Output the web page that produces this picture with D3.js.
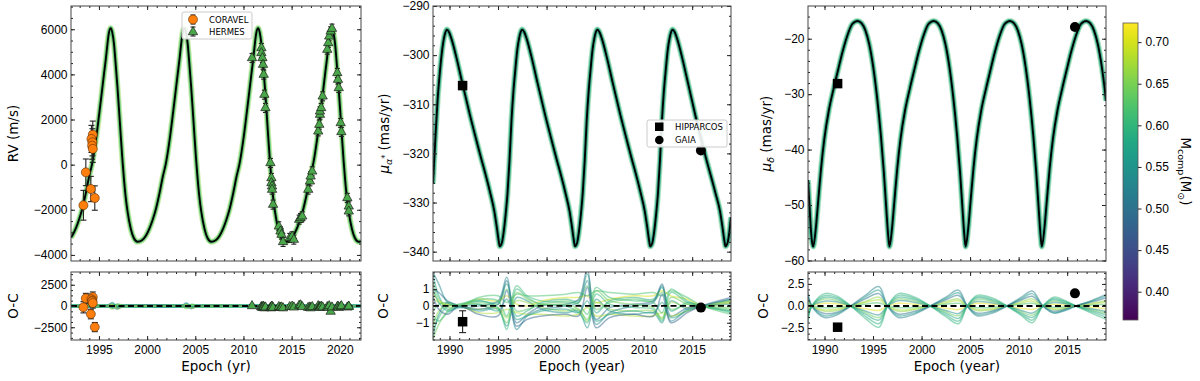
<!DOCTYPE html>
<html>
<head>
<meta charset="utf-8">
<script src="https://cdn.jsdelivr.net/npm/d3@7"></script>
<style>
    html, body { margin: 0; padding: 0; background: #fff; }
    svg { display: block; font-family: "DejaVu Sans", sans-serif; }
    .tick text { font-size: 12px; fill: #000; }
    .tick line { stroke: #222; }
</style>
</head>
<body>
<div id="chart"></div>
<script>
/*
 * Mass colour bar range (M_sun).
 */
var massDomain = [0.366, 0.723];
var massTicks = [0.40, 0.45, 0.50, 0.55, 0.60, 0.65, 0.70];

/*
 * RV panel: best orbit [epoch, m/s].
 */
var rvModel = [
    [1992.1, -3230], [1992.22, -3150], [1992.62, -2800], [1992.92, -2450], [1993.27, -1950],
    [1993.62, -1300], [1993.97, -550], [1994.32, 100], [1994.67, 1050], [1995.0, 2150],
    [1995.27, 3100], [1995.52, 4000], [1995.72, 4700], [1995.87, 5300], [1996.04, 5850],
    [1996.22, 6050], [1996.39, 5850], [1996.56, 5350], [1996.72, 4550], [1996.92, 3450],
    [1997.09, 2400], [1997.26, 1300], [1997.44, 200], [1997.6, -650], [1997.78, -1450],
    [1997.96, -2050], [1998.31, -2850], [1998.62, -3250], [1999.02, -3420], [1999.47, -3350],
    [1999.87, -3150], [2000.27, -2800], [2000.57, -2450], [2000.92, -1950], [2001.27, -1300],
    [2001.62, -550], [2001.97, 100], [2002.32, 1050], [2002.65, 2150], [2002.92, 3100],
    [2003.17, 4000], [2003.37, 4700], [2003.52, 5300], [2003.69, 5850], [2003.87, 6050],
    [2004.04, 5850], [2004.21, 5350], [2004.37, 4550], [2004.57, 3450], [2004.74, 2400],
    [2004.91, 1300], [2005.09, 200], [2005.25, -650], [2005.43, -1450], [2005.61, -2050],
    [2005.96, -2850], [2006.27, -3250], [2006.67, -3420], [2007.12, -3350], [2007.52, -3150],
    [2007.92, -2800], [2008.22, -2450], [2008.57, -1950], [2008.92, -1300], [2009.27, -550],
    [2009.62, 100], [2009.97, 1050], [2010.3, 2150], [2010.57, 3100], [2010.82, 4000],
    [2011.02, 4700], [2011.17, 5300], [2011.34, 5850], [2011.52, 6050], [2011.69, 5850],
    [2011.86, 5350], [2012.02, 4550], [2012.22, 3450], [2012.39, 2400], [2012.56, 1300],
    [2012.74, 200], [2012.9, -650], [2013.08, -1450], [2013.26, -2050], [2013.61, -2850],
    [2013.92, -3250], [2014.32, -3420], [2014.77, -3350], [2015.17, -3150], [2015.57, -2800],
    [2015.87, -2450], [2016.22, -1950], [2016.57, -1300], [2016.92, -550], [2017.27, 100],
    [2017.62, 1050], [2017.95, 2150], [2018.22, 3100], [2018.47, 4000], [2018.67, 4700],
    [2018.82, 5300], [2018.99, 5850], [2019.17, 6050], [2019.34, 5850], [2019.51, 5350],
    [2019.67, 4550], [2019.87, 3450], [2020.04, 2400], [2020.21, 1300], [2020.39, 200],
    [2020.55, -650], [2020.73, -1450], [2020.91, -2050], [2021.26, -2850], [2021.57, -3250],
    [2021.97, -3420], [2022.2, -3390]
];

/*
 * CORAVEL measurements.
 */
var coravelEpoch = [1993.39, 1993.64, 1994.16, 1994.57, 1994.36, 1994.22, 1994.32, 1994.29, 1994.36];
var coravelRv    = [-1800, -340, -1080, -1480, 1330, 1140, 990, 840, 700];
var coravelErr   = [660, 590, 560, 540, 600, 600, 600, 600, 600];
var coravelOc    = [-150, 900, -950, -2480, 1050, 800, 650, 550, 350];

/*
 * HERMES measurements.
 */
var hermesEpoch = [
    2010.89, 2011.86, 2011.86, 2011.97, 2012.03, 2012.10, 2012.17, 2012.28, 2012.80, 2012.90,
    2012.90, 2012.97, 2012.97, 2013.07, 2013.67, 2013.84, 2013.95, 2014.11, 2014.80, 2015.05,
    2015.23, 2015.78, 2015.93, 2016.10, 2016.72, 2016.90, 2016.97, 2017.14, 2017.76, 2017.87,
    2017.94, 2017.94, 2018.07, 2018.22, 2018.70, 2018.80, 2018.90, 2019.05, 2019.19, 2019.74,
    2019.81, 2019.89, 2020.09, 2020.16, 2020.78, 2020.93, 2020.93
];
var hermesRv = [
    4727, 5170, 4949, 4727, 4431, 3988, 3101, 2512, 75, -590,
    -811, -960, -1108, -1772, -2733, -2955, -3101, -3425, -3248, -3177,
    -3323, -2437, -2362, -2290, -1108, -740, -518, -297, 1475, 1772,
    2215, 2362, 2512, 3026, 5095, 5392, 5685, 5906, 6026, 4063,
    3766, 3398, 1847, 1449, -1475, -1848, -2069
];
var hermesOc = [
    0, -100, -150, -200, -50, -100, -250, -150, -200, -100,
    -250, -150, -50, -200, -100, -200, -150, -250, -100, -50,
    -150, 50, 100, -100, -200, -150, -250, -100, 0, -100,
    -150, -200, -50, -150, -100, -200, 0, -650, -150, -100,
    -50, -200, -100, 0, -150, -100, -50
];
var hermesErr = 200;

/*
 * RV residual draws: node epochs, masses and values (m/s).
 */
var rvOcEpoch = [1992.1, 1995.8, 1996.4, 1996.9, 1997.6, 2003.5, 2004.1, 2004.6, 2005.3, 2011.0, 2012.0, 2019.5, 2022.2];
var rvOcMass = [0.58, 0.62, 0.55, 0.66, 0.70, 0.52];
var rvOcDraws = [
    [0, 0, 300, -200, 0, 0, 250, -150, 0, 0, 0, 0, 0],
    [0, 0, -250, 250, 0, 0, -200, 200, 0, 0, 0, 0, 0],
    [0, 0, 400, -100, 0, 0, 350, -100, 0, 0, 0, 0, 0],
    [0, 0, -350, 150, 0, 0, -300, 120, 0, 0, 0, 0, 0],
    [0, 0, 150, -300, 0, 0, 120, -250, 0, 0, 0, 0, 0],
    [0, 0, -150, -350, 0, 0, -100, -300, 0, 0, 0, 0, 0]
];

/*
 * Proper motion in RA: best orbit [epoch, mas/yr].
 */
var pmraModel = [
    [1988.3, -326.2], [1988.37, -323.5], [1988.57, -316], [1988.77, -309.2], [1988.97, -304.3],
    [1989.17, -300.2], [1989.37, -297.2], [1989.57, -295.4], [1989.72, -294.8], [1989.97, -295.4],
    [1990.22, -296.8], [1990.69, -300.3], [1991.31, -305.6], [1992.07, -311.9], [1993.1, -319.8],
    [1994.14, -327.6], [1994.62, -331.8], [1994.87, -335.0], [1995.07, -337.8], [1995.18, -338.9],
    [1995.38, -338.3], [1995.58, -336.0], [1995.78, -332.5], [1995.98, -328.0], [1996.18, -321.5],
    [1996.38, -313.5], [1996.58, -307.5], [1996.78, -303.0], [1996.98, -299.0], [1997.18, -296.5],
    [1997.33, -295.3], [1997.47, -294.8], [1997.72, -295.4], [1997.97, -296.8], [1998.44, -300.3],
    [1999.06, -305.6], [1999.82, -311.9], [2000.85, -319.8], [2001.89, -327.6], [2002.37, -331.8],
    [2002.62, -335.0], [2002.82, -337.8], [2002.93, -338.9], [2003.13, -338.3], [2003.33, -336.0],
    [2003.53, -332.5], [2003.73, -328.0], [2003.93, -321.5], [2004.13, -313.5], [2004.33, -307.5],
    [2004.53, -303.0], [2004.73, -299.0], [2004.93, -296.5], [2005.08, -295.3], [2005.22, -294.8],
    [2005.47, -295.4], [2005.72, -296.8], [2006.19, -300.3], [2006.81, -305.6], [2007.57, -311.9],
    [2008.6, -319.8], [2009.64, -327.6], [2010.12, -331.8], [2010.37, -335.0], [2010.57, -337.8],
    [2010.68, -338.9], [2010.88, -338.3], [2011.08, -336.0], [2011.28, -332.5], [2011.48, -328.0],
    [2011.68, -321.5], [2011.88, -313.5], [2012.08, -307.5], [2012.28, -303.0], [2012.48, -299.0],
    [2012.68, -296.5], [2012.83, -295.3], [2012.97, -294.8], [2013.22, -295.4], [2013.47, -296.8],
    [2013.94, -300.3], [2014.56, -305.6], [2015.32, -312.2], [2016.35, -320.4], [2017.39, -328.0],
    [2017.87, -331.8], [2018.12, -335.0], [2018.32, -337.8], [2018.43, -338.9], [2018.63, -338.3],
    [2018.83, -336.0], [2019.0, -333.0]
];

/*
 * Proper motion in Dec: best orbit [epoch, mas/yr].
 */
var pmdecModel = [
    [1988.3, -45.5], [1988.45, -50.0], [1988.6, -54.5], [1988.72, -56.7], [1988.84, -57.5],
    [1989.09, -54.5], [1989.34, -49.5], [1989.64, -43.5], [1989.99, -38.0], [1990.44, -33.0],
    [1990.94, -29.0], [1991.39, -25.7], [1991.84, -22.5], [1992.34, -19.5], [1992.84, -17.4],
    [1993.14, -16.95], [1993.41, -16.8], [1993.81, -17.2], [1994.21, -18.5], [1994.61, -21.0],
    [1995.01, -25.0], [1995.41, -30.5], [1995.81, -37.5], [1996.11, -44.0], [1996.36, -50.5],
    [1996.56, -55.5], [1996.69, -57.5], [1996.94, -54.5], [1997.19, -49.5], [1997.49, -43.5],
    [1997.84, -38.0], [1998.29, -33.0], [1998.79, -29.0], [1999.24, -25.7], [1999.69, -22.5],
    [2000.19, -19.5], [2000.69, -17.4], [2000.99, -16.95], [2001.26, -16.8], [2001.66, -17.2],
    [2002.06, -18.5], [2002.46, -21.0], [2002.86, -25.0], [2003.26, -30.5], [2003.66, -37.5],
    [2003.96, -44.0], [2004.21, -50.5], [2004.41, -55.5], [2004.54, -57.5], [2004.79, -54.5],
    [2005.04, -49.5], [2005.34, -43.5], [2005.69, -38.0], [2006.14, -33.0], [2006.64, -29.0],
    [2007.09, -25.7], [2007.54, -22.5], [2008.04, -19.5], [2008.54, -17.4], [2008.84, -16.95],
    [2009.11, -16.8], [2009.51, -17.2], [2009.91, -18.5], [2010.31, -21.0], [2010.71, -25.0],
    [2011.11, -30.5], [2011.51, -37.5], [2011.81, -44.0], [2012.06, -50.5], [2012.26, -55.5],
    [2012.39, -57.5], [2012.64, -54.5], [2012.89, -49.5], [2013.19, -43.5], [2013.54, -38.0],
    [2013.99, -33.0], [2014.49, -29.0], [2014.94, -25.7], [2015.39, -22.5], [2015.89, -19.5],
    [2016.39, -17.4], [2016.69, -16.95], [2016.96, -16.8], [2017.36, -17.2], [2017.76, -18.5],
    [2018.16, -21.0], [2018.56, -25.0], [2018.96, -30.5], [2019.0, -31.2]
];

/*
 * Astrometric points: [epoch, value, O-C, O-C error].
 */
var hipparcosPmra  = [1991.35, -306.2, -0.94, 0.65];
var gaiaPmra       = [2015.9, -319.4, -0.1, 0.1];
var hipparcosPmdec = [1991.35, -28.1, -2.4, 0.2];
var gaiaPmdec      = [2015.8, -17.9, 1.43, 0.1];

/*
 * RA residual draws.
 */
var pmraOcEpoch = [1988.3, 1988.9, 1989.8, 1991.0, 1993.0, 1995.0, 1995.9, 1996.9, 1998.0, 1999.5, 2002.0,
                   2003.3, 2004.2, 2005.1, 2006.5, 2009.0, 2011.0, 2011.9, 2012.8, 2014.5, 2016.0, 2019.0];
var pmraOcMass = [0.58, 0.63, 0.70, 0.55, 0.66, 0.50, 0.60, 0.68, 0.62, 0.53, 0.64, 0.57, 0.61, 0.48];
var pmraOcDraws = [
    [1.9, 0.6, -0.2, 0.0, 0.3, 0.2, 1.3, -0.6, -0.3, 0.2, 0.4, 0.3, 1.9, -0.4, 0.3, 0.5, 0.4, 1.1, -0.3, 0.2, 0.0, -0.3],
    [1.4, 0.4, -0.1, 0.0, 0.2, 0.1, 1.0, -0.3, -0.2, 0.1, 0.3, 0.2, 1.2, -0.2, 0.2, 0.4, 0.3, 0.8, -0.2, 0.1, 0.0, -0.2],
    [0.8, 0.3, 0.1, 0.0, 0.4, 0.3, 0.6, 0.1, 0.0, 0.3, 0.5, 0.5, 0.6, 0.2, 0.4, 0.6, 0.6, 0.9, 0.6, 0.4, 0.0, 0.2],
    [-1.9, -0.5, 0.2, 0.0, -0.3, -0.2, -1.2, 0.5, 0.3, -0.2, -0.4, -0.3, -1.3, 0.4, -0.3, -0.5, -0.4, -1.0, 0.3, -0.2, 0.0, 0.3],
    [-1.2, -0.3, 0.1, 0.0, -0.2, -0.1, -0.7, 0.3, 0.2, -0.1, -0.3, -0.2, -0.9, 0.2, -0.2, -0.3, -0.3, -0.7, 0.2, -0.1, 0.0, 0.2],
    [1.0, 0.8, 0.3, 0.0, -0.2, 0.1, 1.5, -1.0, -0.5, 0.0, 0.1, 0.4, 2.2, -0.8, -0.1, 0.1, 0.3, 1.3, -0.6, -0.1, 0.0, 0.4],
    [-0.6, -0.9, -0.4, 0.0, 0.3, -0.1, -1.4, 1.0, 0.5, 0.1, 0.0, -0.4, -1.0, 0.7, 0.1, -0.1, -0.2, -0.9, 0.8, 0.2, 0.0, -0.4],
    [0.4, 0.2, 0.0, 0.0, -0.4, -0.4, -0.2, -0.4, -0.5, -0.5, -0.6, -0.5, -0.1, -0.6, -0.5, -0.6, -0.6, -0.4, -0.6, -0.3, 0.0, 0.3],
    [-0.3, 0.1, 0.2, 0.0, 0.5, 0.6, 0.2, 0.7, 0.6, 0.6, 0.7, 0.8, 0.6, 0.9, 0.8, 0.7, 0.8, 0.6, 0.9, 0.5, 0.0, -0.5],
    [2.0, 1.3, 0.2, -0.1, 0.0, 0.3, 1.7, -1.4, -0.6, -0.2, 0.0, 0.2, 1.5, -1.1, -0.4, 0.0, 0.2, 1.2, -0.9, -0.2, 0.0, 0.1],
    [-2.0, -1.1, -0.3, 0.1, 0.1, -0.2, -1.0, 0.8, 0.4, 0.1, 0.1, -0.2, -0.8, 0.9, 0.3, 0.1, -0.1, -0.8, 0.5, 0.1, 0.0, -0.1],
    [1.0, 0.2, -0.3, -0.1, 0.1, -0.3, 0.4, -0.8, -0.6, -0.3, -0.2, -0.4, 0.3, -0.9, -0.5, -0.3, -0.4, 0.2, -0.7, -0.3, 0.0, 0.4],
    [-1.5, -0.7, 0.0, 0.1, 0.4, 0.3, -0.6, 1.2, 0.6, 0.3, 0.2, 0.1, -0.5, 1.1, 0.5, 0.3, 0.2, -0.4, 1.0, 0.3, 0.0, -0.3],
    [0.6, -0.2, -0.5, 0.0, -0.5, -0.6, 0.9, -1.2, -0.8, -0.6, -0.5, -0.6, 1.1, -1.3, -0.7, -0.5, -0.6, 0.7, -1.0, -0.4, 0.0, 0.5]
];

/*
 * Dec residual draws.
 */
var pmdecOcEpoch = [1988.3, 1988.7, 1990.0, 1991.3, 1992.7, 1994.2, 1995.6, 1996.5, 1997.6, 1999.3, 2000.9, 2002.5, 2003.8,
                    2004.7, 2005.7, 2007.3, 2008.8, 2010.3, 2011.4, 2012.5, 2013.6, 2014.8, 2015.9, 2017.5, 2019.0];
var pmdecOcMass = [0.58, 0.66, 0.52, 0.71, 0.64, 0.56, 0.68, 0.60, 0.62, 0.54, 0.50, 0.59];
var pmdecOcDraws = [
    [-1.2, 0, 1.0, 0.8, 0, -0.9, -1.6, 0, 1.0, 0.7, 0, -0.8, -1.4, 0, 0.9, 0.6, 0, -0.8, -1.3, 0, 0.7, 0.4, 0, -0.5, -1.0],
    [0.7, 0, -0.6, -0.5, 0, 0.5, 1.0, 0, -0.6, -0.4, 0, 0.5, 0.8, 0, -0.5, -0.4, 0, 0.5, 0.8, 0, -0.4, -0.3, 0, 0.3, 0.6],
    [1.6, 0, -1.3, -1.0, 0, 1.2, 2.2, 0, -1.3, -0.9, 0, 1.0, 1.8, 0, -1.1, -0.8, 0, 1.0, 1.7, 0, -0.8, -0.5, 0, 0.6, 1.3],
    [-0.4, 0, 0.3, 0.25, 0, -0.3, -0.5, 0, 0.3, 0.2, 0, -0.25, -0.4, 0, 0.3, 0.2, 0, -0.25, -0.4, 0, 0.2, 0.1, 0, -0.15, -0.3],
    [-0.9, 0, 0.8, 0.6, 0, -0.7, -1.3, 0, 0.8, 0.55, 0, -0.65, -1.1, 0, 0.7, 0.5, 0, -0.65, -1.05, 0, 0.55, 0.3, 0, -0.4, -0.8],
    [1.3, 0, -1.1, -0.85, 0, 1.0, 1.8, 0, -1.1, -0.75, 0, 0.85, 1.5, 0, -0.95, -0.65, 0, 0.85, 1.4, 0, -0.75, -0.45, 0, 0.55, 1.1],
    [0.5, 0, -0.45, -0.35, 0, 0.4, 0.7, 0, -0.45, -0.3, 0, 0.35, 0.6, 0, -0.4, -0.3, 0, 0.35, 0.55, 0, -0.3, -0.2, 0, 0.2, 0.45],
    [-1.8, 0, 1.4, 1.1, 0, -1.4, -2.4, 0, 1.4, 1.0, 0, -1.2, -2.0, 0, 1.2, 0.9, 0, -1.1, -1.9, 0, 1.0, 0.6, 0, -0.8, -1.5],
    [0.25, 0, -0.2, -0.15, 0, 0.2, 0.35, 0, -0.2, -0.15, 0, 0.2, 0.3, 0, -0.2, -0.15, 0, 0.2, 0.3, 0, -0.15, -0.1, 0, 0.1, 0.2],
    [-0.6, 0, 0.55, 0.45, 0, -0.55, -1.0, 0, 0.6, 0.4, 0, -0.5, -0.85, 0, 0.5, 0.35, 0, -0.5, -0.8, 0, 0.4, 0.25, 0, -0.3, -0.6],
    [1.0, 0, -0.85, -0.7, 0, 0.8, 1.4, 0, -0.9, -0.6, 0, 0.7, 1.2, 0, -0.8, -0.55, 0, 0.7, 1.1, 0, -0.6, -0.35, 0, 0.45, 0.9],
    [-1.5, 0, 1.2, 0.95, 0, -1.15, -2.0, 0, 1.2, 0.85, 0, -1.0, -1.7, 0, 1.05, 0.75, 0, -0.95, -1.6, 0, 0.85, 0.5, 0, -0.65, -1.25]
];

/*
 * Layout.
 */
var width = 1200, height = 381;
var mainY = [6, 261], ocY = [272, 340];

var svg = d3.select('#chart').append('svg')
    .attr('width', width)
    .attr('height', height);
var defs = svg.append('defs');

var massScale = d3.scaleLinear().domain(massDomain).range([0, 1]);

/**
 * Viridis colour for a companion mass.
 */
function massColor(m) {
    return d3.interpolateViridis(massScale(m));
}

/**
 * Values from start to stop (inclusive) by step.
 */
function ticksBy(start, stop, step) {
    return d3.range(Math.round((stop - start) / step) + 1).map(function(i) {
        return +(start + i * step).toFixed(6);
    });
}

var clipCount = 0;

/**
 * Clip group for a plot box.
 */
function clipGroup(x, y) {
    var id = 'clip' + (clipCount++);
    defs.append('clipPath').attr('id', id).append('rect')
        .attr('x', x.range()[0]).attr('y', y.range()[1])
        .attr('width', x.range()[1] - x.range()[0])
        .attr('height', y.range()[0] - y.range()[1]);
    return svg.append('g').attr('clip-path', 'url(#' + id + ')');
}

/**
 * Box with inward ticks on four sides.
 */
function drawFrame(x, y, opt) {
    var g = svg.append('g');
    var x0 = x.range()[0], x1 = x.range()[1];
    var yTop = y.range()[1], yBot = y.range()[0];

    function put(axis, tx, ty) {
        var a = g.append('g').attr('transform', 'translate(' + tx + ',' + ty + ')').call(axis);
        a.select('.domain').remove();
        return a;
    }
    /*
     * Bottom and top.
     */
    put(d3.axisBottom(x).tickValues(opt.xMajor).tickSize(-4).tickPadding(5.5)
        .tickFormat(opt.xLabels ? d3.format('d') : ''), 0, yBot);
    put(d3.axisBottom(x).tickValues(opt.xMinor).tickSize(-2).tickFormat(''), 0, yBot);
    put(d3.axisTop(x).tickValues(opt.xMajor).tickSize(-4).tickFormat(''), 0, yTop);
    put(d3.axisTop(x).tickValues(opt.xMinor).tickSize(-2).tickFormat(''), 0, yTop);
    /*
     * Left and right.
     */
    put(d3.axisLeft(y).tickValues(opt.yMajor).tickSize(-4).tickPadding(3.5)
        .tickFormat(opt.yFormat), x0, 0);
    put(d3.axisLeft(y).tickValues(opt.yMinor).tickSize(-2).tickFormat(''), x0, 0);
    put(d3.axisRight(y).tickValues(opt.yMajor).tickSize(-4).tickFormat(''), x1, 0);
    put(d3.axisRight(y).tickValues(opt.yMinor).tickSize(-2).tickFormat(''), x1, 0);

    g.append('rect')
        .attr('x', x0).attr('y', yTop)
        .attr('width', x1 - x0).attr('height', yBot - yTop)
        .attr('fill', 'none').attr('stroke', '#444').attr('stroke-width', 1);
}

/**
 * Best orbit with a faint coloured halo of draws under it.
 */
function drawModel(g, x, y, pairs, outer, inner) {
    var line = d3.line()
        .x(function(d) { return x(d[0]); })
        .y(function(d) { return y(d[1]); })
        .curve(d3.curveMonotoneX);
    g.append('path').attr('d', line(pairs)).attr('fill', 'none')
        .attr('stroke', massColor(outer)).attr('stroke-width', 6).attr('stroke-opacity', 0.45);
    g.append('path').attr('d', line(pairs)).attr('fill', 'none')
        .attr('stroke', massColor(inner)).attr('stroke-width', 4).attr('stroke-opacity', 0.75);
    g.append('path').attr('d', line(pairs)).attr('fill', 'none')
        .attr('stroke', '#000').attr('stroke-width', 1.9);
}

/**
 * Residual draws, coloured by mass.
 */
function drawDraws(g, x, y, epochs, draws, masses, width) {
    var line = d3.line()
        .x(function(d, i) { return x(epochs[i]); })
        .y(function(d) { return y(d); })
        .curve(d3.curveCatmullRom.alpha(0.5));
    draws.forEach(function(vals, k) {
        g.append('path').attr('d', line(vals)).attr('fill', 'none')
            .attr('stroke', massColor(masses[k]))
            .attr('stroke-width', width).attr('stroke-opacity', 0.5);
    });
}

function zeroLine(g, x, y) {
    g.append('line')
        .attr('x1', x.range()[0]).attr('x2', x.range()[1])
        .attr('y1', y(0)).attr('y2', y(0))
        .attr('stroke', '#000').attr('stroke-width', 1.8)
        .attr('stroke-dasharray', '6,3.5');
}

/**
 * Vertical error bar with caps.
 */
function errorBar(g, cx, y, v, e, cap) {
    var bar = g.append('g').attr('stroke', '#222').attr('stroke-width', 1.1);
    bar.append('line').attr('x1', cx).attr('x2', cx).attr('y1', y(v - e)).attr('y2', y(v + e));
    bar.append('line').attr('x1', cx - cap).attr('x2', cx + cap).attr('y1', y(v - e)).attr('y2', y(v - e));
    bar.append('line').attr('x1', cx - cap).attr('x2', cx + cap).attr('y1', y(v + e)).attr('y2', y(v + e));
}

var triangle = d3.symbol().type(d3.symbolTriangle).size(38);

function drawTriangle(g, cx, cy) {
    g.append('path').attr('d', triangle())
        .attr('transform', 'translate(' + cx + ',' + cy + ')')
        .attr('fill', '#4aa84a').attr('stroke', '#1d1d1d').attr('stroke-width', 0.7);
}

function drawCircle(g, cx, cy) {
    g.append('circle').attr('cx', cx).attr('cy', cy).attr('r', 4.5)
        .attr('fill', '#ff7f0e').attr('stroke', '#5a2b00').attr('stroke-width', 0.6);
}

/**
 * Rotated axis label, optional math parts.
 */
function yLabel(cx, cy, parts, angle) {
    var t = svg.append('text')
        .attr('transform', 'translate(' + cx + ',' + cy + ') rotate(' + (angle || -90) + ')')
        .attr('text-anchor', 'middle')
        .attr('dy', '0.35em')
        .attr('font-size', 13.5);
    parts.forEach(function(p) {
        var s = t.append('tspan').text(p.text);
        if (p.italic) s.attr('font-style', 'italic');
        if (p.size) s.attr('font-size', p.size);
        if (p.dy) s.attr('dy', p.dy);
    });
    return t;
}

function xLabel(cx, text) {
    svg.append('text').attr('x', cx).attr('y', 371)
        .attr('text-anchor', 'middle').attr('font-size', 13.5).text(text);
}

/*
 * ---------------- Panel 1: radial velocity ----------------
 */
var x1 = d3.scaleLinear().domain([1992.1, 2022.2]).range([71, 361]);
var y1 = d3.scaleLinear().domain([-4270, 7030]).range([mainY[1], mainY[0]]);
var y1oc = d3.scaleLinear().domain([-4000, 4000]).range([ocY[1], ocY[0]]);

var g1 = clipGroup(x1, y1);
drawModel(g1, x1, y1, rvModel, 0.66, 0.62);
coravelEpoch.forEach(function(t, i) {
    errorBar(g1, x1(t), y1, coravelRv[i], coravelErr[i], 3);
});
coravelEpoch.forEach(function(t, i) {
    drawCircle(g1, x1(t), y1(coravelRv[i]));
});
hermesEpoch.forEach(function(t, i) {
    errorBar(g1, x1(t), y1, hermesRv[i], hermesErr, 2.5);
});
hermesEpoch.forEach(function(t, i) {
    drawTriangle(g1, x1(t), y1(hermesRv[i]));
});

/*
 * Legend.
 */
var leg1 = svg.append('g');
leg1.append('rect').attr('x', 182).attr('y', 12).attr('width', 70).attr('height', 27)
    .attr('rx', 2).attr('fill', '#fff').attr('fill-opacity', 0.9).attr('stroke', '#ccc');
errorBar(leg1, 193, d3.scaleIdentity(), 19.5, 4.5, 2.5);
drawCircle(leg1, 193, 19.5);
errorBar(leg1, 193, d3.scaleIdentity(), 31.5, 4.5, 2.5);
drawTriangle(leg1, 193, 32);
leg1.append('text').attr('x', 209).attr('y', 22.5).attr('font-size', 8.5).text('CORAVEL');
leg1.append('text').attr('x', 209).attr('y', 34.5).attr('font-size', 8.5).text('HERMES');

drawFrame(x1, y1, {
    xMajor: ticksBy(1995, 2020, 5), xMinor: ticksBy(1993, 2022, 1), xLabels: false,
    yMajor: ticksBy(-4000, 6000, 2000), yMinor: ticksBy(-4000, 7000, 500), yFormat: d3.format('d')
});

var g1oc = clipGroup(x1, y1oc);
g1oc.append('line').attr('x1', 71).attr('x2', 361).attr('y1', y1oc(0)).attr('y2', y1oc(0))
    .attr('stroke', massColor(0.58)).attr('stroke-width', 4).attr('stroke-opacity', 0.8);
drawDraws(g1oc, x1, y1oc, rvOcEpoch, rvOcDraws, rvOcMass, 1.8);
zeroLine(g1oc, x1, y1oc);
coravelEpoch.forEach(function(t, i) {
    errorBar(g1oc, x1(t), y1oc, coravelOc[i], coravelErr[i], 3);
});
coravelEpoch.forEach(function(t, i) {
    drawCircle(g1oc, x1(t), y1oc(coravelOc[i]));
});
hermesEpoch.forEach(function(t, i) {
    errorBar(g1oc, x1(t), y1oc, hermesOc[i], hermesErr, 2.5);
});
hermesEpoch.forEach(function(t, i) {
    drawTriangle(g1oc, x1(t), y1oc(hermesOc[i]));
});
drawFrame(x1, y1oc, {
    xMajor: ticksBy(1995, 2020, 5), xMinor: ticksBy(1993, 2022, 1), xLabels: true,
    yMajor: [-2500, 0, 2500], yMinor: ticksBy(-3750, 3750, 625), yFormat: d3.format('d')
});

yLabel(13, 133.5, [{ text: 'RV (m/s)' }]);
yLabel(13, 306, [{ text: 'O-C' }]);
xLabel(216, 'Epoch (yr)');

/*
 * ---------------- Panel 2: proper motion in RA ----------------
 */
var x2 = d3.scaleLinear().domain([1988.3, 2019.0]).range([433, 731]);
var y2 = d3.scaleLinear().domain([-341.9, -290]).range([mainY[1], mainY[0]]);
var y2oc = d3.scaleLinear().domain([-2.03, 2.02]).range([ocY[1], ocY[0]]);

var g2 = clipGroup(x2, y2);
drawModel(g2, x2, y2, pmraModel, 0.62, 0.57);
g2.append('rect').attr('x', x2(hipparcosPmra[0]) - 4.75).attr('y', y2(hipparcosPmra[1]) - 4.75)
    .attr('width', 9.5).attr('height', 9.5).attr('fill', '#000');
g2.append('circle').attr('cx', x2(gaiaPmra[0])).attr('cy', y2(gaiaPmra[1])).attr('r', 5).attr('fill', '#000');

var leg2 = svg.append('g');
leg2.append('rect').attr('x', 647).attr('y', 120).attr('width', 80).attr('height', 27)
    .attr('rx', 2).attr('fill', '#fff').attr('fill-opacity', 0.9).attr('stroke', '#ccc');
leg2.append('rect').attr('x', 655).attr('y', 122.5).attr('width', 8.5).attr('height', 8.5).attr('fill', '#000');
leg2.append('circle').attr('cx', 659.3).attr('cy', 140).attr('r', 4.3).attr('fill', '#000');
leg2.append('text').attr('x', 675).attr('y', 130).attr('font-size', 8.5).text('HIPPARCOS');
leg2.append('text').attr('x', 675).attr('y', 143).attr('font-size', 8.5).text('GAIA');

drawFrame(x2, y2, {
    xMajor: ticksBy(1990, 2015, 5), xMinor: ticksBy(1989, 2018, 1), xLabels: false,
    yMajor: ticksBy(-340, -290, 10), yMinor: ticksBy(-340, -290, 2), yFormat: d3.format('d')
});

var g2oc = clipGroup(x2, y2oc);
drawDraws(g2oc, x2, y2oc, pmraOcEpoch, pmraOcDraws, pmraOcMass, 1.5);
zeroLine(g2oc, x2, y2oc);
errorBar(g2oc, x2(hipparcosPmra[0]), y2oc, hipparcosPmra[2], hipparcosPmra[3], 3.5);
g2oc.append('rect').attr('x', x2(hipparcosPmra[0]) - 4.75).attr('y', y2oc(hipparcosPmra[2]) - 4.75)
    .attr('width', 9.5).attr('height', 9.5).attr('fill', '#000');
g2oc.append('circle').attr('cx', x2(gaiaPmra[0])).attr('cy', y2oc(gaiaPmra[2])).attr('r', 5).attr('fill', '#000');
drawFrame(x2, y2oc, {
    xMajor: ticksBy(1990, 2015, 5), xMinor: ticksBy(1989, 2018, 1), xLabels: true,
    yMajor: [-1, 0, 1], yMinor: ticksBy(-2, 2, 0.2), yFormat: d3.format('d')
});

yLabel(384, 133.5, [
    { text: 'μ', italic: true },
    { text: 'α', italic: true, size: 9.5, dy: '3' },
    { text: '*', size: 8, dy: '-4' },
    { text: ' (mas/yr)', dy: '1' }
]);
yLabel(383, 306, [{ text: 'O-C' }]);
xLabel(582, 'Epoch (year)');

/*
 * ---------------- Panel 3: proper motion in Dec ----------------
 */
var x3 = d3.scaleLinear().domain([1988.3, 2019.0]).range([808, 1106]);
var y3 = d3.scaleLinear().domain([-60.1, -14.1]).range([mainY[1], mainY[0]]);
var y3oc = d3.scaleLinear().domain([-3.85, 3.85]).range([ocY[1], ocY[0]]);

var g3 = clipGroup(x3, y3);
drawModel(g3, x3, y3, pmdecModel, 0.62, 0.57);
g3.append('rect').attr('x', x3(hipparcosPmdec[0]) - 4.75).attr('y', y3(hipparcosPmdec[1]) - 4.75)
    .attr('width', 9.5).attr('height', 9.5).attr('fill', '#000');
g3.append('circle').attr('cx', x3(gaiaPmdec[0])).attr('cy', y3(gaiaPmdec[1])).attr('r', 5).attr('fill', '#000');
drawFrame(x3, y3, {
    xMajor: ticksBy(1990, 2015, 5), xMinor: ticksBy(1989, 2018, 1), xLabels: false,
    yMajor: ticksBy(-60, -20, 10), yMinor: ticksBy(-60, -16, 2), yFormat: d3.format('d')
});

var g3oc = clipGroup(x3, y3oc);
drawDraws(g3oc, x3, y3oc, pmdecOcEpoch, pmdecOcDraws, pmdecOcMass, 1.5);
zeroLine(g3oc, x3, y3oc);
g3oc.append('rect').attr('x', x3(hipparcosPmdec[0]) - 4.75).attr('y', y3oc(hipparcosPmdec[2]) - 4.75)
    .attr('width', 9.5).attr('height', 9.5).attr('fill', '#000');
g3oc.append('circle').attr('cx', x3(gaiaPmdec[0])).attr('cy', y3oc(gaiaPmdec[2])).attr('r', 5).attr('fill', '#000');
drawFrame(x3, y3oc, {
    xMajor: ticksBy(1990, 2015, 5), xMinor: ticksBy(1989, 2018, 1), xLabels: true,
    yMajor: [-2.5, 0, 2.5], yMinor: ticksBy(-3.75, 3.75, 0.625), yFormat: d3.format('.1f')
});

yLabel(766, 133.5, [
    { text: 'μ', italic: true },
    { text: 'δ', italic: true, size: 9.5, dy: '3' },
    { text: ' (mas/yr)', dy: '-3' }
]);
yLabel(763, 306, [{ text: 'O-C' }]);
xLabel(957, 'Epoch (year)');

/*
 * ---------------- Colour bar ----------------
 */
var cbar = d3.scaleLinear().domain(massDomain).range([320, 23]);
var grad = defs.append('linearGradient').attr('id', 'viridis')
    .attr('x1', 0).attr('y1', 1).attr('x2', 0).attr('y2', 0);
d3.range(0, 1.0001, 0.05).forEach(function(s) {
    grad.append('stop').attr('offset', s).attr('stop-color', d3.interpolateViridis(s));
});
svg.append('rect').attr('x', 1123).attr('y', 23).attr('width', 15).attr('height', 297)
    .attr('fill', 'url(#viridis)').attr('stroke', '#555').attr('stroke-width', 0.8);
var cAxis = svg.append('g').attr('transform', 'translate(1138,0)')
    .call(d3.axisRight(cbar).tickValues(massTicks).tickSize(3.5).tickPadding(4).tickFormat(d3.format('.2f')));
cAxis.select('.domain').remove();

yLabel(1186, 171.5, [
    { text: 'M' },
    { text: 'comp', size: 9.5, dy: '3' },
    { text: '(M', dy: '-3' },
    { text: '⊙', size: 9.5, dy: '3' },
    { text: ')', dy: '-3' }
], 90);
</script>
</body>
</html>
